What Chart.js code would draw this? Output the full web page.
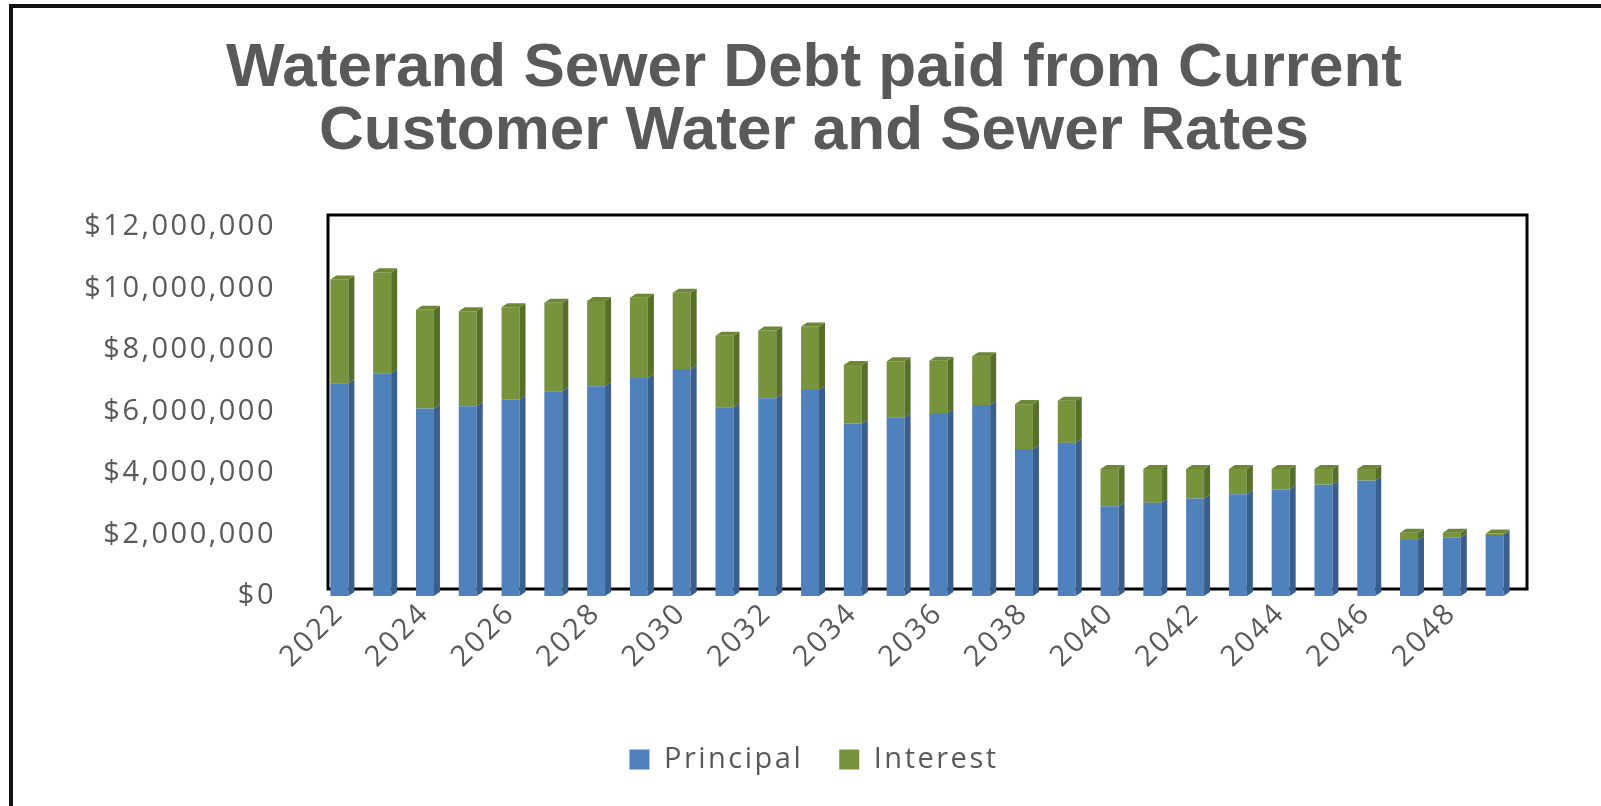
<!DOCTYPE html>
<html lang="en">
<head>
  <meta charset="UTF-8">
  <title>Water and Sewer Debt</title>
  <script src="https://cdn.jsdelivr.net/npm/chart.js"></script>
  <style>
    html, body {
      margin: 0;
      padding: 0;
      background: #fff;
      overflow: hidden;
    }
    #wrap {
      position: relative;
      width: 1601px;
      height: 806px;
    }
    #frame {
      position: absolute;
      left: 9px;
      top: 4px;
      right: -20px;
      bottom: -20px;
      border-left: 4px solid #111;
      border-top: 4px solid #111;
    }
    #debtChart {
      position: absolute;
      left: 0;
      top: 0;
    }
  </style>
</head>
<body>
  <div id="wrap">
    <div id="frame"></div>
    <canvas id="debtChart" width="1601" height="806"></canvas>
  </div>

  <script>
    // Years on the x axis
    const years = ['2022', '2023', '2024', '2025', '2026', '2027', '2028', '2029', '2030', '2031',
                   '2032', '2033', '2034', '2035', '2036', '2037', '2038', '2039', '2040', '2041',
                   '2042', '2043', '2044', '2045', '2046', '2047', '2048', '2049'];

    // Principal paid per year ($)
    const principal = [6920000, 7240000, 6100000, 6170000, 6380000, 6660000, 6820000, 7090000, 7380000, 6140000,
                       6430000, 6700000, 5610000, 5810000, 5950000, 6210000, 4780000, 4980000, 2920000, 3030000,
                       3170000, 3310000, 3460000, 3620000, 3750000, 1820000, 1900000, 1980000];

    // Interest paid per year ($)
    const interest = [3370000, 3290000, 3210000, 3090000, 3010000, 2880000, 2770000, 2610000, 2480000, 2320000,
                      2200000, 2060000, 1900000, 1820000, 1700000, 1590000, 1460000, 1370000, 1210000, 1100000,
                      960000, 820000, 670000, 510000, 380000, 240000, 160000, 50000];

    // y axis ticks
    const yMax = 12000000;
    const yStep = 2000000;

    const textGray = '#595959';
    const labelFont = { family: 'Open Sans', size: 29 };
    const wideText = '2.5px';

    // axis and legend text in the original is wider than our fonts, spread it a little
    // (the title keeps normal spacing)
    const spacing = {
      id: 'spacing',
      beforeLayout(chart) { chart.ctx.letterSpacing = wideText; },
      afterLayout(chart) {
        const t = chart.titleBlock;
        if (t && !t._plainSpacing) {
          const draw = t.draw.bind(t);
          t.draw = function (area) {
            chart.ctx.letterSpacing = '0px';
            draw(area);
            chart.ctx.letterSpacing = wideText;
          };
          t._plainSpacing = true;
        }
      },
      beforeDraw(chart) { chart.ctx.letterSpacing = wideText; }
    };

    // back wall box of the old 3D chart, drawn behind the bars
    const wallBox = {
      id: 'wallBox',
      beforeDatasetsDraw(chart) {
        const a = chart.chartArea;
        const ctx = chart.ctx;
        ctx.save();
        ctx.strokeStyle = '#000';
        ctx.lineWidth = 3;
        ctx.strokeRect(a.left + 10, a.top - 12, a.right - a.left + 1, a.bottom - a.top + 5);
        ctx.restore();
      }
    };

    // side faces and top caps so the bars look like the 3D columns
    const sideFaces = [['#3a5f8c', null], ['#56702a', '#6c8834']];
    const bar3d = {
      id: 'bar3d',
      afterDatasetsDraw(chart) {
        const ctx = chart.ctx;
        const dx = 6, dy = 4;
        ctx.save();
        chart.data.datasets.forEach((ds, i) => {
          const meta = chart.getDatasetMeta(i);
          meta.data.forEach(bar => {
            const right = bar.x + bar.width / 2;
            const left = bar.x - bar.width / 2;
            ctx.fillStyle = sideFaces[i][0];
            ctx.beginPath();
            ctx.moveTo(right, bar.y);
            ctx.lineTo(right + dx, bar.y - dy);
            ctx.lineTo(right + dx, bar.base - dy);
            ctx.lineTo(right, bar.base);
            ctx.closePath();
            ctx.fill();
            if (sideFaces[i][1]) {
              ctx.fillStyle = sideFaces[i][1];
              ctx.beginPath();
              ctx.moveTo(left, bar.y);
              ctx.lineTo(left + dx, bar.y - dy);
              ctx.lineTo(right + dx, bar.y - dy);
              ctx.lineTo(right, bar.y);
              ctx.closePath();
              ctx.fill();
            }
          });
        });
        ctx.restore();
      }
    };

    const ctx = document.getElementById('debtChart').getContext('2d');
    new Chart(ctx, {
      type: 'bar',
      data: {
        labels: years,
        datasets: [
          {
            label: 'Principal',
            data: principal,
            backgroundColor: '#4f81bd',
            barPercentage: 0.42,
            categoryPercentage: 1.0
          },
          {
            label: 'Interest',
            data: interest,
            backgroundColor: '#77933c',
            barPercentage: 0.42,
            categoryPercentage: 1.0
          }
        ]
      },
      options: {
        responsive: false,
        animation: false,
        layout: {
          padding: { left: 27, right: 0, top: 0, bottom: 22 }
        },
        plugins: {
          title: {
            display: true,
            text: ['Waterand Sewer Debt paid from Current', 'Customer Water and Sewer Rates'],
            color: textGray,
            font: { family: 'Liberation Sans', size: 62, weight: 'bold', lineHeight: 1.016 },
            padding: { top: 37, bottom: 64 }
          },
          legend: {
            position: 'bottom',
            labels: {
              color: textGray,
              font: labelFont,
              boxWidth: 20,
              boxHeight: 20,
              padding: 36
            }
          },
          tooltip: { enabled: false }
        },
        scales: {
          x: {
            stacked: true,
            grid: { display: false, drawTicks: false },
            border: { display: false },
            afterFit(scale) { scale.height = 113; },
            ticks: {
              color: textGray,
              font: labelFont,
              autoSkip: false,
              minRotation: 45,
              maxRotation: 45,
              padding: 0,
              callback: function (value, index) {
                return index % 2 === 0 ? this.getLabelForValue(value) : '';
              }
            }
          },
          y: {
            stacked: true,
            min: 0,
            max: yMax,
            grid: { display: false, drawTicks: false },
            border: { display: false },
            afterFit(scale) { scale.width = 291; },
            ticks: {
              stepSize: yStep,
              color: textGray,
              font: labelFont,
              padding: 42,
              callback: v => '$' + v.toLocaleString('en-US')
            }
          },
          // empty right margin so title and legend centre like the original
          yRight: {
            position: 'right',
            grid: { display: false, drawTicks: false },
            border: { display: false },
            ticks: { display: false },
            afterFit(scale) { scale.width = 85; }
          }
        }
      },
      plugins: [spacing, wallBox, bar3d]
    });
  </script>
</body>
</html>
